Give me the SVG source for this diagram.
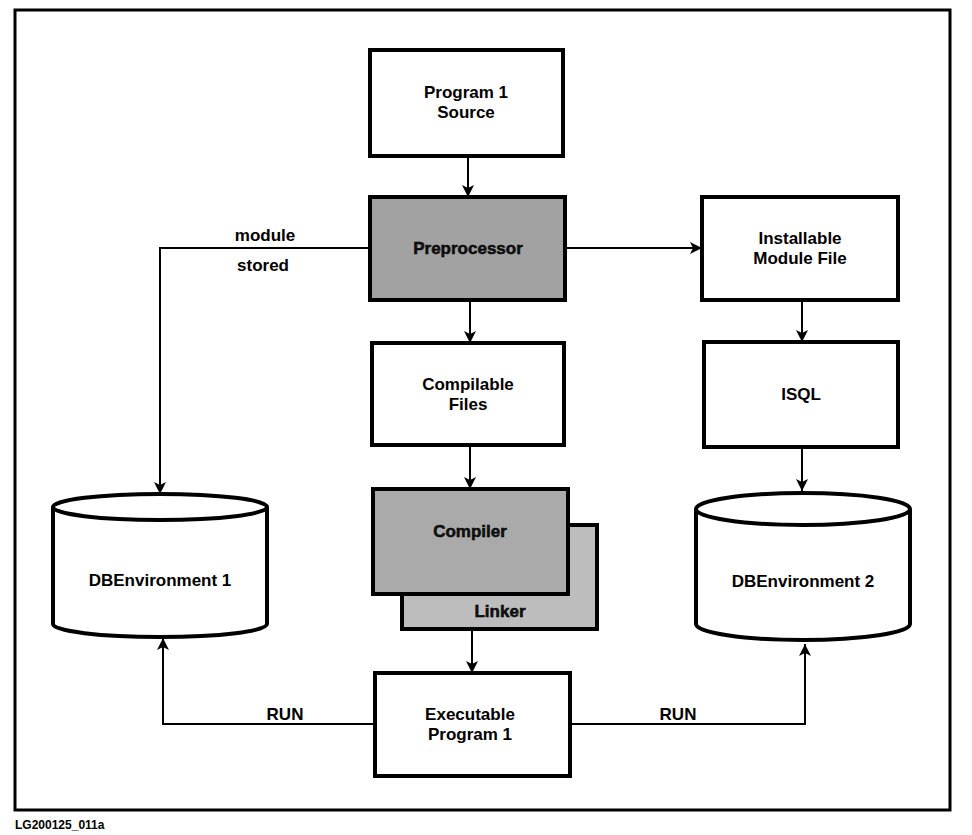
<svg xmlns="http://www.w3.org/2000/svg" width="972" height="835" viewBox="0 0 972 835">
<defs>
<marker id="arrow" viewBox="0 0 12 12" refX="12" refY="6" markerWidth="12" markerHeight="12" markerUnits="userSpaceOnUse" orient="auto">
<path d="M0,0 L12,6 L0,12 L3,6 Z" fill="#000"/>
</marker>
</defs>
<style>
.box{fill:#fff;stroke:#000;stroke-width:4}
.shade{fill:#a2a2a2;stroke:#000;stroke-width:4}
.shadeM{fill:#aaaaaa;stroke:#000;stroke-width:4}
.shadeL{fill:#bdbdbd;stroke:#000;stroke-width:4}
.cyl{fill:#fff;stroke:#000;stroke-width:4}
.conn{fill:none;stroke:#000;stroke-width:2;marker-end:url(#arrow)}
text{font-family:"Liberation Sans",Arial,sans-serif;font-weight:bold;font-size:17px;text-anchor:middle;fill:#000}
.ondither{fill:#111;stroke:#000;stroke-width:0.5}
</style>
<rect width="972" height="835" fill="#fff"/>
<rect id="frame" x="15" y="10" width="935" height="800" fill="none" stroke="#000" stroke-width="3"/>

<g id="connectors">
<line class="conn" x1="468" y1="156" x2="468" y2="197"/>
<polyline class="conn" points="370,248 160,248 160,494"/>
<line class="conn" x1="565" y1="248" x2="702" y2="248"/>
<line class="conn" x1="470" y1="300" x2="470" y2="343"/>
<line class="conn" x1="802" y1="300" x2="802" y2="342"/>
<line class="conn" x1="470" y1="445" x2="470" y2="489"/>
<line class="conn" x1="802" y1="447" x2="802" y2="491"/>
<line class="conn" x1="472" y1="629" x2="472" y2="673"/>
<polyline class="conn" points="375,724 163,724 163,638"/>
<polyline class="conn" points="570,724 805,724 805,644"/>
<text x="265" y="241">module</text>
<text x="263" y="271">stored</text>
<text x="285" y="720">RUN</text>
<text x="678" y="720">RUN</text>
</g>

<g id="program1source">
<rect class="box" x="370" y="50" width="193" height="106"/>
<text x="466" y="98">Program 1</text>
<text x="466" y="118">Source</text>
</g>

<g id="preprocessor">
<rect class="shade" x="370" y="197" width="195" height="103"/>
<text x="468" y="254" class="ondither">Preprocessor</text>
</g>

<g id="installable">
<rect class="box" x="702" y="197" width="196" height="103"/>
<text x="800" y="244">Installable</text>
<text x="800" y="264">Module File</text>
</g>

<g id="compilable">
<rect class="box" x="372" y="343" width="192" height="102"/>
<text x="468" y="390">Compilable</text>
<text x="468" y="410">Files</text>
</g>

<g id="isql">
<rect class="box" x="704" y="342" width="194" height="105"/>
<text x="801" y="400">ISQL</text>
</g>

<g id="linker">
<rect class="shadeL" x="402" y="525" width="195" height="104"/>
<text x="500" y="617" class="ondither">Linker</text>
</g>

<g id="compiler">
<rect class="shadeM" x="373" y="489" width="195" height="105"/>
<text x="470" y="537" class="ondither">Compiler</text>
</g>

<g id="executable">
<rect class="box" x="375" y="673" width="195" height="103"/>
<text x="470" y="720">Executable</text>
<text x="470" y="740">Program 1</text>
</g>

<g id="dbenv1">
<path class="cyl" d="M53,507 L53,624 A107,13 0 0 0 267,624 L267,507 A107,13 0 0 0 53,507 Z"/>
<path class="cyl" d="M53,507 A107,13 0 0 0 267,507" stroke-width="2"/>
<text x="160" y="586">DBEnvironment 1</text>
</g>

<g id="dbenv2">
<path class="cyl" d="M696,509 L696,624 A107,16 0 0 0 910,624 L910,509 A107,16 0 0 0 696,509 Z"/>
<path class="cyl" d="M696,509 A107,16 0 0 0 910,509" stroke-width="2"/>
<text x="803" y="587">DBEnvironment 2</text>
</g>

<text x="15" y="829" style="font-size:12px;text-anchor:start">LG200125_011a</text>
</svg>
